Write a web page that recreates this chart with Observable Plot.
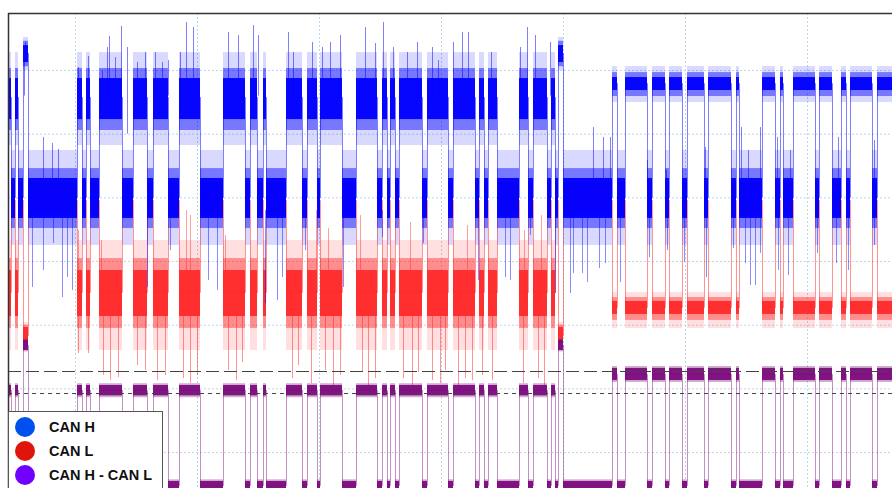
<!DOCTYPE html>
<html><head><meta charset="utf-8">
<script src="https://cdn.jsdelivr.net/npm/d3@7"></script>
<script src="https://cdn.jsdelivr.net/npm/@observablehq/plot@0.6"></script>
<style>
body{margin:0;background:#fff;}
#wrap{position:relative;width:892px;height:488px;overflow:hidden;}
#legend{position:absolute;left:8px;top:411px;width:155px;height:90px;background:#fff;border:1px solid #555;box-sizing:border-box;font-family:"Liberation Sans",Arial,sans-serif;font-weight:bold;font-size:14.5px;color:#111;}
.row{position:absolute;left:0;height:20px;display:flex;align-items:center;white-space:nowrap;}
.dot{width:20px;height:20px;border-radius:50%;margin-left:6px;margin-right:14px;flex:none;}
</style></head><body>
<div id="wrap"><div id="chart"></div><div id="legend"></div></div>
<script>
// ---- time axis (µs) ----
const tEnd = 88.4;
const gridT = [6.7, 18.9, 31.1, 43.3, 55.5, 67.7, 79.9];
const gridV = [3.5, 3.0, 2.5, 2.0, 1.5, 1.0, 0.5];
const yDomain = [0.217, 3.948];
const thresholdLong = 1.136;
const thresholdShort = 0.963;

// ---- bus states: segment start times and state (D dominant, R recessive, B burst) ----
const starts = [0.0,0.3,0.7,1.0,1.5,2.0,6.9,7.4,7.8,8.2,9.1,11.4,12.5,13.9,14.5,16.0,17.1,19.2,21.5,23.7,
  24.2,24.9,25.5,25.8,27.8,29.4,29.9,30.9,31.2,33.4,34.8,36.9,37.4,37.9,38.2,38.7,39.1,41.4,41.9,44.0,
  44.5,46.7,47.1,47.6,48.0,48.9,51.1,52.0,52.5,53.9,54.3,54.7,55.0,55.5,60.4,60.9,61.7,63.9,64.4,65.7,
  66.1,67.4,67.9,69.6,70.0,72.3,72.8,73.1,75.4,76.7,77.2,77.5,78.5,80.7,81.1,82.4,83.3,83.8,84.2,86.4,86.9];
const states = ("DRDRBR" + "DRDRDRDRDRDRDRDRDRDRDRDRDRDRDRDRDRDRDRDRDRDRDR" + "BR" + "DRDRDRDRDRDRDRDRDRDRDRDRDR" + "D").split("");

// ---- levels (V): DL dominant left part, DR dominant right part, R recessive, B burst ----
const canH_center = {DL: 3.288, DR: 3.398, R: 2.503, B: 3.634};
const canH_core   = {DL: [3.115, 3.437], DR: [3.343, 3.445], R: [2.338, 2.652], B: [3.563, 3.696]};
const canH_mid    = {DL: [3.029, 3.516], DR: [3.296, 3.484], R: [2.259, 2.730], B: [3.53, 3.73]};
const canH_outer  = {DL: [2.911, 3.641], DR: [3.249, 3.531], R: [2.126, 2.872], B: [3.50, 3.76]};

const canL_center = {DL: 1.757, DR: 1.639, R: 2.479, B: 1.419};
const canL_core   = {DL: [1.568, 1.929], DR: [1.584, 1.686], R: [2.36, 2.62], B: [1.356, 1.482]};
const canL_mid    = {DL: [1.474, 2.023], DR: [1.537, 1.717], R: [2.36, 2.62], B: [1.34, 1.50]};
const canL_outer  = {DL: [1.301, 2.165], DR: [1.474, 1.757], R: [2.36, 2.62], B: [1.32, 1.52]};

const diff_center = {DL: 0.987, DR: 1.113, R: 0.241, B: 1.340};
const diff_core   = {DL: [0.945, 1.026], DR: [1.065, 1.160], R: [0.217, 0.272], B: [1.301, 1.380]};
const diff_outer  = {DL: [0.930, 1.040], DR: [1.05, 1.175], R: [0.217, 0.285], B: [1.29, 1.39]};

// ---- noise spikes [t, from, to] ----
const canH_spikesUp = [[1.6,3.3,3.579],[1.7,3.6,3.720],[7.0,3.3,3.524],[8.0,3.3,3.610],[9.4,3.3,3.5],[9.9,3.3,3.681],
  [10.1,3.3,3.767],[10.7,3.3,3.602],[11.3,3.3,3.846],[11.9,3.0,3.681],[12.9,3.3,3.563],[13.7,3.3,3.641],
  [14.7,3.3,3.641],[15.4,3.3,3.563],[16.0,3.3,3.579],[17.2,3.3,3.641],[17.8,3.3,3.877],[18.5,3.3,3.838],
  [22.0,3.3,3.798],[23.0,3.3,3.775],[24.5,3.3,3.853],[25.0,3.3,3.775],[28.0,3.3,3.798],[28.5,3.3,3.641],
  [30.4,3.3,3.720],[31.4,3.3,3.681],[32.2,3.3,3.720],[33.2,3.3,3.775],[35.7,3.3,3.838],[36.7,3.3,3.712],
  [37.5,3.3,3.877],[38.5,3.3,3.681],[39.9,3.3,3.641],[40.9,3.3,3.720],[42.4,3.3,3.681],[43.0,3.3,3.579],
  [44.5,3.3,3.720],[45.4,3.3,3.798],[46.0,3.3,3.798],[48.3,3.3,3.641],[51.2,3.3,3.681],[51.9,3.3,3.838],
  [52.7,3.3,3.775],[54.2,3.3,3.720],
  [3.5,2.6,2.974],[4.4,2.6,2.927],[5.0,2.6,2.880],[58.5,2.6,3.052],[59.5,2.6,2.974],[60.2,2.6,2.974],
  [63.9,2.6,2.793],[65.8,2.6,2.715],[69.7,2.6,2.895],[73.3,2.6,3.052],[74.0,2.6,2.872],[75.2,2.6,3.052],
  [76.9,2.6,2.974],[78.2,2.6,2.872],[83.0,2.6,2.974],[86.6,2.6,2.950]];
const canH_spikesDown = [[2.4,2.4,1.796],[3.5,2.4,1.929],[4.5,2.4,2.141],[5.4,2.4,1.717],[5.9,2.4,1.874],
  [6.4,2.4,1.772],[13.9,2.4,1.796],[16.2,2.4,2.086],[20.0,2.4,1.851],[20.9,2.4,1.772],[25.7,2.4,1.670],
  [26.9,2.4,1.694],[27.4,2.4,1.874],[29.7,2.4,2.086],[33.5,2.4,1.796],[37.4,2.4,2.188],[41.5,2.4,2.141],
  [47.0,2.4,1.851],[49.7,2.4,1.874],[50.2,2.4,1.851],[52.2,2.4,2.204],[54.7,2.4,1.749],[56.2,2.4,1.749],
  [56.5,2.4,1.906],[57.4,2.4,1.906],[57.9,2.4,1.835],[59.1,2.4,1.945],[59.7,2.4,1.984],[61.2,2.4,1.835],
  [64.1,2.4,2.031],[65.9,2.4,2.086],[67.6,2.4,1.992],[69.8,2.4,1.874],[72.5,2.4,2.102],[73.7,2.4,1.984],
  [74.2,2.4,1.811],[74.7,2.4,1.811],[75.2,2.4,2.063],[77.0,2.4,1.929],[78.0,2.4,1.890],[80.9,2.4,2.063],
  [82.8,2.4,1.984],[84.0,2.4,1.929],[86.6,2.4,2.126]];
const canL_spikesDown = [[7.0,1.6,1.277],[8.0,1.6,1.277],[9.5,1.6,1.105],[10.2,1.6,1.065],[11.0,1.6,1.089],
  [12.9,1.6,1.183],[13.7,1.6,1.144],[14.9,1.6,1.065],[15.7,1.6,1.105],[17.5,1.6,1.081],[18.2,1.6,1.042],
  [18.9,1.6,1.105],[22.0,1.6,1.144],[22.8,1.6,1.065],[23.4,1.6,1.207],[28.4,1.6,1.081],[29.0,1.6,1.183],
  [30.3,1.6,1.042],[31.7,1.6,1.144],[32.5,1.6,1.026],[33.2,1.6,1.105],[35.4,1.6,1.128],[36.0,1.6,1.026],
  [36.7,1.6,1.081],[39.5,1.6,1.081],[40.4,1.6,1.026],[41.0,1.6,1.128],[42.4,1.6,1.065],[43.2,1.6,1.042],
  [43.7,1.6,1.144],[45.0,1.6,1.026],[45.7,1.6,1.081],[46.4,1.6,1.065],[47.4,1.6,1.105],[48.4,1.6,1.065],
  [51.5,1.6,1.042],[53.0,1.6,1.081],[53.6,1.6,1.026]];
const canL_spikesUp = [[7.0,1.9,2.243],[9.3,1.9,2.165],[17.8,1.9,2.400],[18.2,1.9,2.361],[21.7,1.9,2.204],
  [30.8,1.9,2.400],[32.0,1.9,2.259],[35.2,1.9,2.361],[40.2,1.9,2.306],[45.9,1.9,2.283],[51.6,1.9,2.243],[53.3,1.9,2.361]];

// ---- legend ----
const seriesNames = ["CAN H", "CAN L", "CAN H - CAN L"];
const legendColors = ["#0050f0", "#e0140a", "#7000ff"];

// ---- build ----
const segs = starts.map((t0, i) => {
  const s = states[i];
  const key = s === "D" ? (t0 < 57 ? "DL" : "DR") : s;
  return {t0, t1: i + 1 < starts.length ? starts[i + 1] : tEnd, key};
});
function linePts(center) {
  const pts = segs.map(d => ({t: d.t0, v: center[d.key]}));
  pts.push({t: tEnd, v: center[segs[segs.length - 1].key]});
  return pts;
}
function bands(table, color, opacity) {
  return Plot.rect(segs, {x1: "t0", x2: "t1", y1: d => table[d.key][0], y2: d => table[d.key][1], fill: color, fillOpacity: opacity});
}
function spikes(list, color, opacity) {
  return Plot.ruleX(list, {x: d => d[0], y1: d => d[1], y2: d => d[2], stroke: color, strokeOpacity: opacity, strokeWidth: 1});
}
function trace(center, color, opacity) {
  return Plot.line(linePts(center), {x: "t", y: "v", curve: "step-after", stroke: color, strokeOpacity: opacity, strokeWidth: 1});
}
const BLUE = "#0000ff", RED = "#ff2a2a", PURPLE = "#7d0b7d";

const chart = Plot.plot({
  width: 892, height: 488,
  marginTop: 13, marginLeft: 8, marginRight: 0, marginBottom: 0,
  x: {domain: [0, tEnd], axis: null},
  y: {domain: yDomain, axis: null},
  marks: [
    Plot.ruleX(gridT, {stroke: "#b9d7ea", strokeDasharray: "2,2"}),
    Plot.ruleY(gridV, {stroke: "#b9d7ea", strokeDasharray: "2,2"}),
    // CAN L
    bands(canL_outer, RED, 0.15),
    spikes(canL_spikesDown, RED, 0.5),
    spikes(canL_spikesUp, RED, 0.45),
    bands(canL_mid, RED, 0.45),
    bands(canL_core, RED, 0.95),
    trace(canL_center, RED, 0.5),
    // CAN H
    bands(canH_outer, BLUE, 0.15),
    spikes(canH_spikesUp, BLUE, 0.5),
    spikes(canH_spikesDown, BLUE, 0.45),
    bands(canH_mid, BLUE, 0.45),
    bands(canH_core, BLUE, 0.95),
    trace(canH_center, BLUE, 0.5),
    // difference
    bands(diff_outer, PURPLE, 0.35),
    bands(diff_core, PURPLE, 0.95),
    trace(diff_center, PURPLE, 0.45),
    // thresholds
    Plot.ruleY([thresholdLong], {stroke: "#444", strokeDasharray: "13,5"}),
    Plot.ruleY([thresholdShort], {stroke: "#444", strokeDasharray: "4,4"}),
    // frame (top, left)
    Plot.ruleX([0], {stroke: "#333", strokeWidth: 1.5}),
    Plot.ruleY([yDomain[1]], {stroke: "#333", strokeWidth: 1.5})
  ]
});
document.getElementById("chart").appendChild(chart);

const legend = document.getElementById("legend");
seriesNames.forEach((name, i) => {
  const row = document.createElement("div");
  row.className = "row";
  row.style.top = (5 + i * 24) + "px";
  const dot = document.createElement("div");
  dot.className = "dot";
  dot.style.background = legendColors[i];
  const label = document.createElement("span");
  label.textContent = name;
  row.appendChild(dot);
  row.appendChild(label);
  legend.appendChild(row);
});
</script></body></html>
